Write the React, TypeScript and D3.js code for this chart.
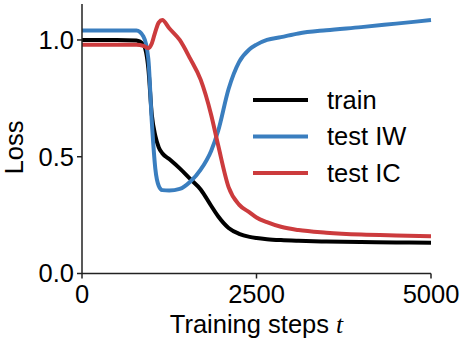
import React from 'react'
import * as d3 from 'd3'

// training steps (shared grid)
const steps = [0, 500, 780, 880, 950, 1000, 1050, 1100, 1150, 1250, 1400, 1550, 1700, 1850, 1950, 2100, 2250, 2400, 2500, 2650, 2850, 3100, 3500, 4000, 4500, 5000]

const trainLoss = [1.0, 1.0, 0.998, 0.98, 0.88, 0.68, 0.59, 0.54, 0.515, 0.49, 0.45, 0.405, 0.36, 0.29, 0.245, 0.195, 0.17, 0.157, 0.152, 0.147, 0.143, 0.14, 0.137, 0.135, 0.133, 0.132]
const testIW = [1.04, 1.04, 1.04, 1.015, 0.92, 0.65, 0.45, 0.375, 0.357, 0.355, 0.362, 0.393, 0.445, 0.525, 0.61, 0.79, 0.905, 0.96, 0.98, 1.0, 1.012, 1.028, 1.042, 1.055, 1.07, 1.085]
const testIC = [0.98, 0.98, 0.98, 0.975, 0.965, 0.985, 1.035, 1.075, 1.085, 1.05, 1.0, 0.92, 0.83, 0.68, 0.55, 0.37, 0.295, 0.262, 0.24, 0.22, 0.2, 0.186, 0.175, 0.167, 0.163, 0.16]

const xTicks = [0, 2500, 5000]
const yTicks = [0, 0.5, 1.0]

const series = [
  { name: 'train', values: trainLoss, color: '#000000' },
  { name: 'test IW', values: testIW, color: '#3a7ebf' },
  { name: 'test IC', values: testIC, color: '#cc3b3d' },
]

const W = 465
const H = 349
const margin = { top: 4, right: 34, bottom: 75.5, left: 82 }
const FONT = '"Liberation Sans", Arial, sans-serif'
const FS = 25.5

export default function App() {
  const x = d3.scaleLinear().domain([0, 5000]).range([margin.left, W - margin.right])
  const y = d3.scaleLinear().domain([0, 1.154]).range([H - margin.bottom, margin.top])

  const line = d3.line<number>()
    .x((_, i) => x(steps[i]))
    .y(d => y(d))
    .curve(d3.curveMonotoneX)

  const y0 = y(0)

  return (
    <svg width={W} height={H} style={{ position: 'absolute', left: 0, top: 0, background: '#fff' }}
      fontFamily={FONT}>
      {/* lines */}
      {series.map(s => (
        <path key={s.name} d={line(s.values) || ''} fill="none" stroke={s.color}
          strokeWidth={4} strokeLinejoin="round" strokeLinecap="butt" />
      ))}

      {/* spines */}
      <line x1={x(0)} x2={x(0)} y1={margin.top} y2={y0} stroke="#222" strokeWidth={1.5} />
      <line x1={x(0)} x2={x(5000)} y1={y0} y2={y0} stroke="#222" strokeWidth={1.5} />

      {/* x ticks */}
      {xTicks.map(t => (
        <g key={t}>
          <line x1={x(t)} x2={x(t)} y1={y0} y2={y0 + 5} stroke="#222" strokeWidth={1.5} />
          <text x={x(t)} y={y0 + 29} textAnchor="middle" fontSize={FS}>{t}</text>
        </g>
      ))}

      {/* y ticks */}
      {yTicks.map(t => (
        <g key={t}>
          <line x1={x(0) - 5} x2={x(0)} y1={y(t)} y2={y(t)} stroke="#222" strokeWidth={1.5} />
          <text x={x(0) - 8} y={y(t)} dy="0.35em" textAnchor="end" fontSize={FS}>{t.toFixed(1)}</text>
        </g>
      ))}

      {/* axis labels */}
      <text x={(x(0) + x(5000)) / 2} y={333} textAnchor="middle" fontSize={FS}>
        Training steps <tspan fontFamily='"Liberation Serif", serif' fontStyle="italic">t</tspan>
      </text>
      <text transform={`translate(23,${y(0.54)}) rotate(-90)`} textAnchor="middle" fontSize={FS}>Loss</text>

      {/* legend */}
      {series.map((s, i) => (
        <g key={s.name} transform={`translate(253,${100 + i * 36.5})`}>
          <line x1={0} x2={55} y1={0} y2={0} stroke={s.color} strokeWidth={4} />
          <text x={74} y={0} dy="0.35em" fontSize={FS}>{s.name}</text>
        </g>
      ))}
    </svg>
  )
}
